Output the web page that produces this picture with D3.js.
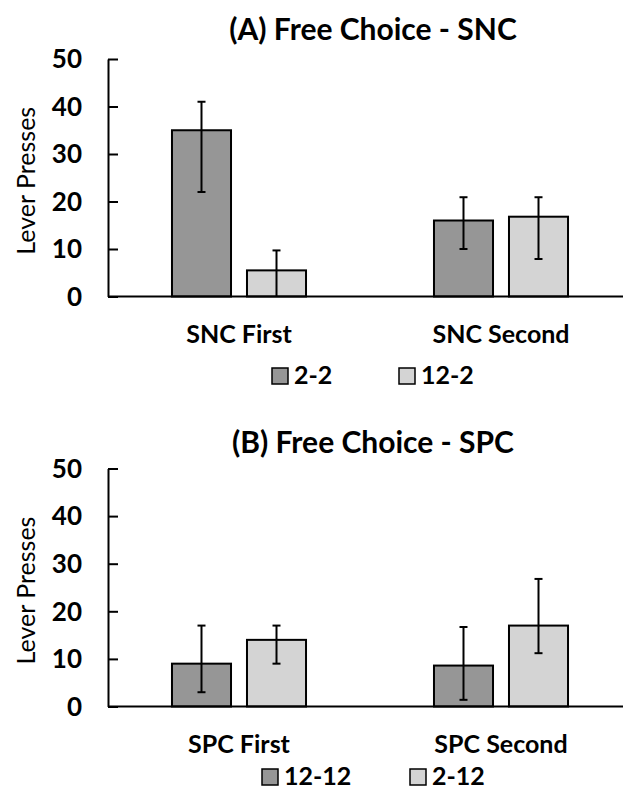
<!DOCTYPE html>
<html>
<head>
<meta charset="utf-8">
<script src="https://cdn.jsdelivr.net/npm/d3@7"></script>
<style>
  body { margin: 0; background: #fff; }
  text { font-family: Lato, "Open Sans", sans-serif; fill: #000; }
</style>
</head>
<body>
<div id="chart"></div>
<script>
// values
let yTicks = [0, 10, 20, 30, 40, 50]

let catsA = ['SNC First', 'SNC Second']
let seriesA = ['2-2', '12-2']
let meanA = [[35, 16], [5.5, 16.8]]
let errLowA = [[22, 10], [0, 7.9]]
let errHighA = [[41, 20.9], [9.7, 20.9]]

let catsB = ['SPC First', 'SPC Second']
let seriesB = ['12-12', '2-12']
let meanB = [[9, 8.6], [14, 17]]
let errLowB = [[3, 1.4], [9, 11.2]]
let errHighB = [[17, 16.7], [17, 26.8]]

let fills = ['#969696', '#d4d4d4']

let W = 623, H = 798

d3.selectAll('svg').remove()

let svg = d3.select('div#chart')
  .append('svg')
    .attr('width', W)
    .attr('height', H)

function drawPanel(opts) {
  let g = svg.append('g')
  let top = opts.top, bottom = opts.bottom
  let left = 108, right = 632

  let y = d3.scaleLinear().domain([0, 50]).range([bottom, top])
  let x0 = d3.scaleBand().domain(opts.cats).range([left, right])
  let x1 = d3.scaleBand().domain(opts.series)
    .range([0, x0.bandwidth()])
    .paddingInner(0.213)
    .paddingOuter(0.853)

  // title
  g.append('text')
    .attr('x', 373)
    .attr('y', opts.titleY)
    .attr('text-anchor', 'middle')
    .style('font-size', '30px')
    .style('font-weight', 'bold')
    .text(opts.title)

  // y label
  g.append('text')
    .attr('transform', `translate(35, ${(top + bottom) / 2 + 3}) rotate(-90)`)
    .attr('text-anchor', 'middle')
    .style('font-size', '25px')
    .text('Lever Presses')

  // bars
  let rows = []
  opts.series.forEach((s, i) => {
    opts.cats.forEach((c, j) => {
      rows.push({s: s, i: i, c: c, v: opts.mean[i][j], lo: opts.lo[i][j], hi: opts.hi[i][j]})
    })
  })

  g.selectAll('rect.bar')
    .data(rows)
    .enter().append('rect')
    .attr('class', 'bar')
    .attr('x', d => x0(d.c) + x1(d.s))
    .attr('y', d => y(d.v))
    .attr('width', x1.bandwidth())
    .attr('height', d => y(0) - y(d.v))
    .attr('fill', d => fills[d.i])
    .attr('stroke', '#000')
    .attr('stroke-width', 2)

  // error bars
  let eb = g.selectAll('g.err')
    .data(rows)
    .enter().append('g')
    .attr('class', 'err')
    .attr('stroke', '#000')
    .attr('stroke-width', 2)
  let cx = d => x0(d.c) + x1(d.s) + x1.bandwidth() / 2
  eb.append('line')
    .attr('x1', cx).attr('x2', cx)
    .attr('y1', d => y(d.hi)).attr('y2', d => y(d.lo))
  eb.append('line')
    .attr('x1', d => cx(d) - 4).attr('x2', d => cx(d) + 4)
    .attr('y1', d => y(d.hi)).attr('y2', d => y(d.hi))
  eb.filter(d => d.lo > 0).append('line')
    .attr('x1', d => cx(d) - 4).attr('x2', d => cx(d) + 4)
    .attr('y1', d => y(d.lo)).attr('y2', d => y(d.lo))

  // y axis: ticks point inward
  let yAxis = g.append('g')
    .attr('transform', `translate(${left}, 0)`)
    .call(d3.axisRight(y).tickValues(yTicks).tickSize(10).tickSizeOuter(0).tickFormat(''))
  yAxis.select('.domain').attr('stroke-width', 2)
  yAxis.selectAll('.tick line').attr('stroke-width', 2)

  g.selectAll('text.ytick')
    .data(yTicks)
    .enter().append('text')
    .attr('class', 'ytick')
    .attr('x', 82)
    .attr('y', d => y(d))
    .attr('dy', '0.36em')
    .attr('text-anchor', 'end')
    .style('font-size', '26px')
    .style('font-weight', 'bold')
    .text(d => d)

  // x axis line
  g.append('line')
    .attr('x1', left).attr('x2', W)
    .attr('y1', y(0)).attr('y2', y(0))
    .attr('stroke', '#000')
    .attr('stroke-width', 2)

  // category labels
  g.selectAll('text.cat')
    .data(opts.cats)
    .enter().append('text')
    .attr('class', 'cat')
    .attr('x', d => x0(d) + x0.bandwidth() / 2)
    .attr('y', opts.catY)
    .attr('text-anchor', 'middle')
    .style('font-size', '25px')
    .style('font-weight', 'bold')
    .text(d => d)

  // legend
  let leg = g.selectAll('g.leg')
    .data(opts.series)
    .enter().append('g')
    .attr('class', 'leg')
    .attr('transform', (d, i) => `translate(${opts.legX[i]}, ${opts.legY})`)
  leg.append('rect')
    .attr('x', 0).attr('y', -16)
    .attr('width', 16).attr('height', 16)
    .attr('fill', (d, i) => fills[i])
    .attr('stroke', '#000')
    .attr('stroke-width', 1.5)
  leg.append('text')
    .attr('x', 22)
    .attr('y', 0)
    .style('font-size', '25px')
    .style('font-weight', 'bold')
    .text(d => d)
}

drawPanel({
  title: '(A) Free Choice - SNC', titleY: 40,
  top: 59, bottom: 296.5,
  cats: catsA, series: seriesA, mean: meanA, lo: errLowA, hi: errHighA,
  catY: 343, legY: 384, legX: [272, 399]
})

drawPanel({
  title: '(B) Free Choice - SPC', titleY: 453,
  top: 468.5, bottom: 706.5,
  cats: catsB, series: seriesB, mean: meanB, lo: errLowB, hi: errHighB,
  catY: 753, legY: 785, legX: [262, 410]
})
</script>
</body>
</html>
